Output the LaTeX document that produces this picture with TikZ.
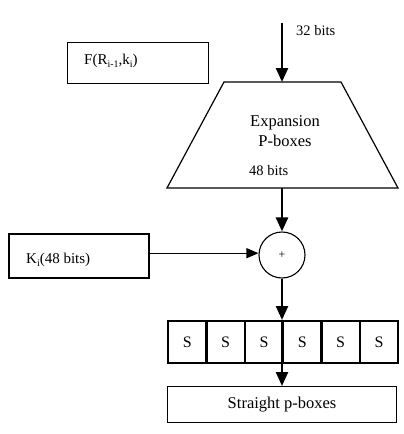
\documentclass[tikz,border=0pt]{standalone}
\usepackage{fontspec}
\setmainfont{Liberation Serif}
\usetikzlibrary{arrows.meta}
\newcommand{\lowsub}[1]{\raisebox{-0.2em}{\fontsize{10}{10}\selectfont #1}}
\tikzset{
  thinbox/.style={draw, line width=1.1pt, inner sep=0pt, anchor=north west},
  thickbox/.style={draw, line width=2.4pt, inner sep=0pt, anchor=north west},
  scell/.style={draw, line width=2.4pt, inner sep=0pt, minimum width=38.33pt, minimum height=42pt, anchor=north west, font=\fontsize{16}{18}\selectfont},
  lbl/.style={inner sep=0pt, font=\fontsize{15}{17}\selectfont},
  bits/.style={inner sep=0pt, font=\fontsize{14.5}{16}\selectfont},
  thickarr/.style={line width=2.4pt, -{Triangle[length=14pt,width=12pt]}},
  thinarr/.style={line width=1.2pt, -{Triangle[length=12pt,width=10pt]}},
}
\begin{document}
\begin{tikzpicture}[x=1pt,y=-1pt]
\useasboundingbox (0,0) rectangle (404,434);
% F box
\node[thinbox, minimum width=141pt, minimum height=41pt] (F) at (67,42) {};
\node[lbl, anchor=west] (Ft) at (84,61) {F(R\lowsub{i-1},k\lowsub{i})};
% top arrow
\coordinate (top) at (282,23);
\node[bits, anchor=west] (b32) at (296,31) {32 bits};
% expansion trapezium
\coordinate (exptop) at (282,82);
\coordinate (expbot) at (282,188);
\draw[line width=1.2pt] (224,82) -- (341,82) -- (398,188) -- (167,188) -- cycle;
\node[inner sep=0pt, font=\fontsize{16.5}{18}\selectfont, align=center] (exptxt) at (285,131) {Expansion\\[2pt]P-boxes};
\node[bits, anchor=west] (b48) at (249,171) {48 bits};
\draw[thickarr] (top) -- (exptop);
% xor
\node[draw, circle, line width=1.1pt, minimum size=46pt, inner sep=0pt, font=\fontsize{12}{12}\selectfont] (xor) at (282,255) {+};
\draw[thickarr] (expbot) -- (xor.north);
% K box
\node[thickbox, minimum width=140pt, minimum height=44pt] (K) at (8,233) {};
\node[lbl, anchor=west] (Kt) at (26,260) {K\lowsub{i}(48 bits)};
\draw[thinarr] ([yshift=3pt]K.east) -- ([yshift=3pt]K.east -| xor.west);
% S boxes
\node[scell] (S1) at (167,320) {S};
\node[scell] (S2) at (205.33,320) {S};
\node[scell] (S3) at (243.67,320) {S};
\node[scell] (S4) at (282,320) {S};
\node[scell] (S5) at (320.33,320) {S};
\node[scell] (S6) at (358.67,320) {S};
\draw[thickarr] (xor.south) -- (xor.south |- S4.north);
% straight p-boxes
\node[thinbox, minimum width=229pt, minimum height=36pt, font=\fontsize{16.5}{18}\selectfont] (SP) at (167,386) {Straight p-boxes};
\draw[thickarr] (S4.north west) -- (S4.north west |- SP.north);
\end{tikzpicture}
\end{document}
